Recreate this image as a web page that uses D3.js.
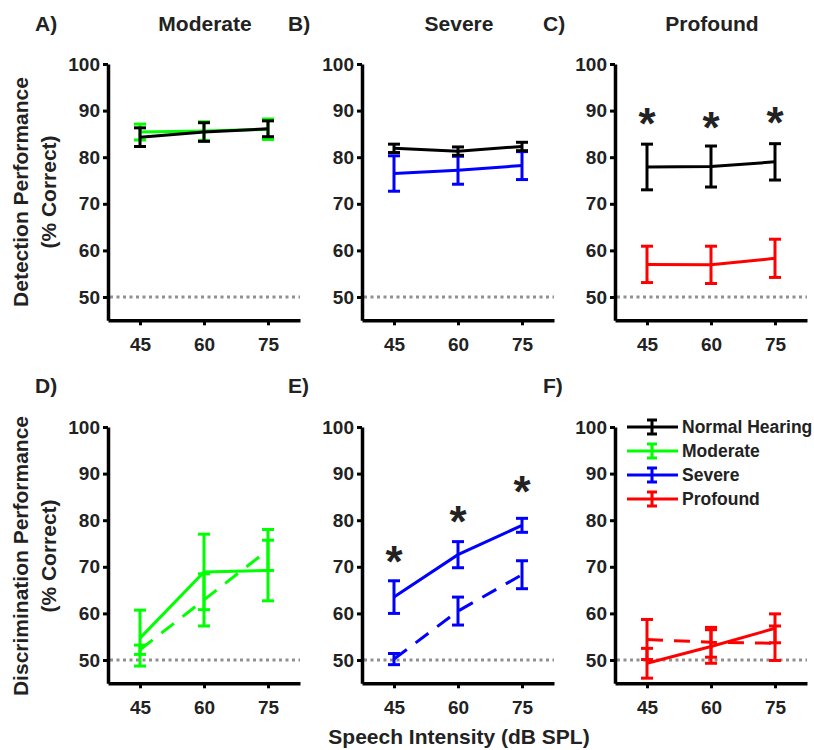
<!DOCTYPE html>
<html>
<head>
<meta charset="utf-8">
<script src="https://cdn.jsdelivr.net/npm/d3@7"></script>
<style>
  body { margin: 0; background: #fff; }
  text { font-family: "Liberation Sans", Arial, sans-serif; font-weight: bold; fill: #222; }
</style>
</head>
<body>
<script>
// speech intensities (dB SPL)
var intensities = [45, 60, 75];
var yTicks = [50, 60, 70, 80, 90, 100];

// detection, top row (mean and error)
var detNormalA = [84.3, 85.4, 86.1], detNormalAErr = [2.0, 2.0, 1.7];
var detModerate = [85.4, 85.6, 86.0], detModerateErr = [1.7, 2.0, 2.2];
var detNormalB = [81.9, 81.3, 82.3], detNormalBErr = [0.9, 0.9, 0.9];
var detSevere = [76.5, 77.2, 78.2], detSevereErr = [3.8, 3.0, 3.0];
var detNormalC = [77.9, 78.0, 79.0], detNormalCErr = [4.9, 4.4, 3.9];
var detProfound = [57.0, 56.9, 58.3], detProfoundErr = [3.9, 4.0, 4.1];
var detStars = [89.2, 88.5, 89.5];

// discrimination, bottom row (solid and dashed)
var discModerate = [54.7, 68.9, 69.2], discModerateErr = [6.0, 8.1, 6.5];
var discModerateDash = [52.2, 62.9, 73.6], discModerateDashErr = [1.0, 5.6, 4.4];
var discSevere = [63.5, 72.6, 78.9], discSevereErr = [3.5, 2.8, 1.5];
var discSevereDash = [50.2, 60.5, 68.3], discSevereDashErr = [1.2, 3.0, 3.0];
var discProfound = [49.3, 52.9, 56.8], discProfoundErr = [3.2, 3.6, 3.1];
var discProfoundDash = [54.4, 53.8, 53.6], discProfoundDashErr = [4.3, 3.2, 3.7];
var discStars = [73.2, 81.8, 88.3];

var legendNames = ['Normal Hearing', 'Moderate', 'Severe', 'Profound'];
var legendColors = ['#000', '#00ff00', '#0000ff', '#ff0000'];

var svg = d3.select('body').append('svg')
    .attr('width', 814)
    .attr('height', 750);

// one panel: axes, chance line, scales
function makePanel(left, top) {
    var x = d3.scaleLinear().domain([37.5, 82.5]).range([0, 192]);
    var y = d3.scaleLinear().domain([45, 100]).range([256.3, 0]);
    var g = svg.append('g').attr('transform', 'translate(' + left + ',' + top + ')');

    // chance level
    g.append('line')
        .attr('x1', 2).attr('x2', 192)
        .attr('y1', y(50)).attr('y2', y(50))
        .attr('stroke', '#909090').attr('stroke-width', 3)
        .attr('stroke-dasharray', '3,3.5');

    var ya = g.append('g').call(d3.axisLeft(y).tickValues(yTicks).tickSize(5).tickSizeOuter(0).tickPadding(3));
    var xa = g.append('g').attr('transform', 'translate(0,' + y(45) + ')')
        .call(d3.axisBottom(x).tickValues(intensities).tickSize(5).tickSizeOuter(0).tickPadding(12));
    [ya, xa].forEach(function(a) {
        a.select('.domain').attr('stroke', '#000').attr('stroke-width', 3.5);
        a.selectAll('.tick line').attr('stroke', '#000').attr('stroke-width', 3);
        a.selectAll('.tick text').style('font-size', '19px').attr('fill', '#222');
    });
    return {g: g, x: x, y: y};
}

function drawSeries(p, vals, errs, color, dashed) {
    var line = d3.line()
        .x(function(d, i) { return p.x(intensities[i]); })
        .y(function(d) { return p.y(d); });
    p.g.append('path')
        .datum(vals)
        .attr('d', line)
        .attr('fill', 'none')
        .attr('stroke', color)
        .attr('stroke-width', 3)
        .attr('stroke-dasharray', dashed ? '16,11' : null);

    var bars = p.g.append('g').selectAll('g')
        .data(vals)
        .join('g')
        .attr('stroke', color)
        .attr('stroke-width', 3);
    bars.append('line')
        .attr('x1', function(d, i) { return p.x(intensities[i]); })
        .attr('x2', function(d, i) { return p.x(intensities[i]); })
        .attr('y1', function(d, i) { return p.y(d - errs[i]); })
        .attr('y2', function(d, i) { return p.y(d + errs[i]); });
    [-1, 1].forEach(function(s) {
        bars.append('line')
            .attr('x1', function(d, i) { return p.x(intensities[i]) - 6; })
            .attr('x2', function(d, i) { return p.x(intensities[i]) + 6; })
            .attr('y1', function(d, i) { return p.y(d + s * errs[i]); })
            .attr('y2', function(d, i) { return p.y(d + s * errs[i]); });
    });
}

function drawStars(p, vals) {
    p.g.selectAll('.star')
        .data(vals)
        .join('text')
        .attr('class', 'star')
        .attr('x', function(d, i) { return p.x(intensities[i]); })
        .attr('y', function(d) { return p.y(d) + 25; })
        .attr('text-anchor', 'middle')
        .style('font-size', '44px')
        .attr('fill', '#000')
        .text('*');
}

function label(x, y, txt, size, anchor) {
    svg.append('text')
        .attr('x', x).attr('y', y)
        .attr('text-anchor', anchor || 'start')
        .style('font-size', size + 'px')
        .text(txt);
}

var lefts = [108, 362, 615];
var pA = makePanel(lefts[0], 64), pB = makePanel(lefts[1], 64), pC = makePanel(lefts[2], 64);
var pD = makePanel(lefts[0], 427), pE = makePanel(lefts[1], 427), pF = makePanel(lefts[2], 427);

drawSeries(pA, detModerate, detModerateErr, '#00ff00');
drawSeries(pA, detNormalA, detNormalAErr, '#000');
drawSeries(pB, detSevere, detSevereErr, '#0000ff');
drawSeries(pB, detNormalB, detNormalBErr, '#000');
drawSeries(pC, detProfound, detProfoundErr, '#ff0000');
drawSeries(pC, detNormalC, detNormalCErr, '#000');
drawStars(pC, detStars);

drawSeries(pD, discModerateDash, discModerateDashErr, '#00ff00', true);
drawSeries(pD, discModerate, discModerateErr, '#00ff00');
drawSeries(pE, discSevereDash, discSevereDashErr, '#0000ff', true);
drawSeries(pE, discSevere, discSevereErr, '#0000ff');
drawStars(pE, discStars);
drawSeries(pF, discProfoundDash, discProfoundDashErr, '#ff0000', true);
drawSeries(pF, discProfound, discProfoundErr, '#ff0000');

// legend inside panel F
var leg = svg.append('g').attr('transform', 'translate(627,427)');
var rows = leg.selectAll('g').data(legendNames).join('g')
    .attr('transform', function(d, i) { return 'translate(0,' + (i * 24) + ')'; });
rows.append('line').attr('x1', 0).attr('x2', 51).attr('y1', 0).attr('y2', 0)
    .attr('stroke', function(d, i) { return legendColors[i]; }).attr('stroke-width', 3);
rows.append('path').attr('d', 'M20,-7H30M25,-7V7M20,7H30')
    .attr('fill', 'none')
    .attr('stroke', function(d, i) { return legendColors[i]; }).attr('stroke-width', 3);
rows.append('text').attr('x', 55).attr('y', 0).attr('dy', '0.35em')
    .style('font-size', '17.5px').text(function(d) { return d; });

// panel letters and titles
var letters = ['A)', 'B)', 'C)', 'D)', 'E)', 'F)'];
var titles = ['Moderate', 'Severe', 'Profound'];
[35, 288, 543].forEach(function(x, i) {
    label(x, 31, letters[i], 21);
    label(x, 393, letters[i + 3], 21);
    label(lefts[i] + 97, 31, titles[i], 21, 'middle');
});

// axis titles
[['Detection Performance', 192], ['Discrimination Performance', 556]].forEach(function(t) {
    svg.append('text').attr('transform', 'translate(28,' + t[1] + ') rotate(-90)')
        .attr('text-anchor', 'middle').style('font-size', '21px').text(t[0]);
    svg.append('text').attr('transform', 'translate(56,' + t[1] + ') rotate(-90)')
        .attr('text-anchor', 'middle').style('font-size', '21px').text('(% Correct)');
});
label(459, 744, 'Speech Intensity (dB SPL)', 21, 'middle');
</script>
</body>
</html>
